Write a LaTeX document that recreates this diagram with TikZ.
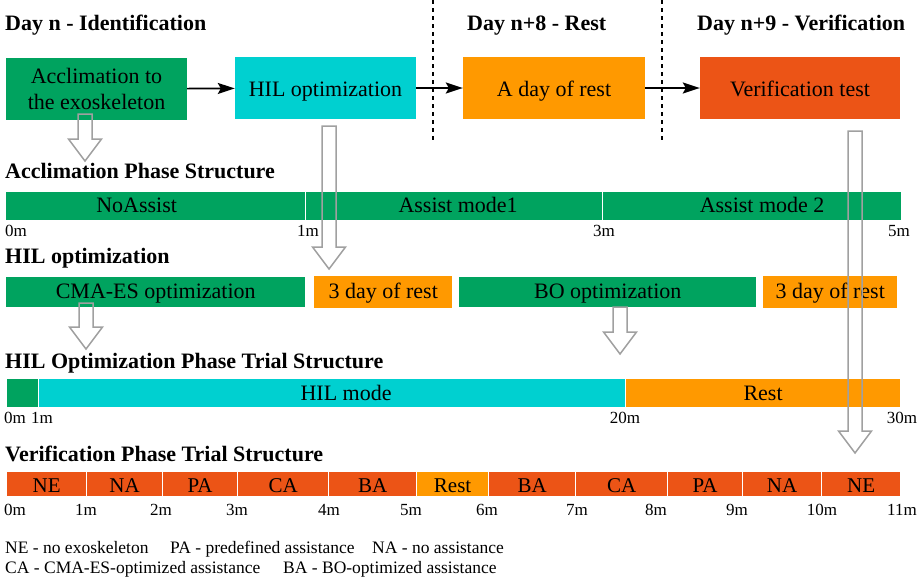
\documentclass[tikz,border=0pt]{standalone}
\usepackage{fontspec}
\setmainfont{Liberation Serif}
\usetikzlibrary{arrows.meta,calc,positioning}

\definecolor{accgreen}{RGB}{0,163,95}
\definecolor{hilcyan}{RGB}{0,208,208}
\definecolor{restorange}{RGB}{255,153,0}
\definecolor{verired}{RGB}{236,84,22}
\definecolor{arrowgray}{RGB}{160,160,160}

\tikzset{
  daytitle/.style={font=\fontsize{22}{26}\selectfont\bfseries, anchor=base west, inner sep=0pt},
  phase/.style={minimum width=181pt, minimum height=62pt, inner sep=0pt, align=center,
    font=\fontsize{22}{26}\selectfont},
  phaseone/.style={phase, text height=17pt, text depth=0pt},
  seg/.style={minimum height=30pt, inner sep=0pt, anchor=west, font=\fontsize{22}{26}\selectfont,
    text height=12.5pt, text depth=0pt},
  wseg/.style={seg, draw=white, line width=1.2pt},
  pseg/.style={wseg, minimum height=29pt, text height=15pt},
  vseg/.style={wseg, minimum height=26pt, font=\fontsize{21}{24}\selectfont, text height=16pt},
  tick/.style={font=\fontsize{17}{20}\selectfont, anchor=base, inner sep=0pt},
  note/.style={font=\fontsize{17.5}{20}\selectfont, anchor=base west, inner sep=0pt},
  flow/.style={line width=1.7pt, -{Stealth[length=17pt,width=11pt,inset=3pt]}},
  hollow/.style={draw=arrowgray, line width=1.5pt, line join=miter},
  daysep/.style={line width=2pt, dash pattern=on 4pt off 4pt}
}

% outlined down arrow from #1 to #2
\newcommand{\hollowarrow}[2]{%
  \draw[hollow] let \p1=(#1), \p2=(#2) in
    (\x1-7pt,\y1) -- (\x1-7pt,\y2+22pt) -- (\x1-16.5pt,\y2+22pt) -- (\x1,\y2)
    -- (\x1+16.5pt,\y2+22pt) -- (\x1+7pt,\y2+22pt) -- (\x1+7pt,\y1) -- cycle;}

\begin{document}
\begin{tikzpicture}[x=1pt,y=-1pt]
	\useasboundingbox (0,0) rectangle (920,581);

	% days
	\node[daytitle] (d1) at (5,30) {Day n - Identification};
	\node[daytitle] (d2) at (467,30) {Day n+8 - Rest};
	\node[daytitle] (d3) at (697,30) {Day n+9 - Verification};

	\draw[daysep] (433,0) -- (433,140);
	\draw[daysep] (662,0) -- (662,140);

	\node[phase, fill=accgreen] (acc) at (96.5,89) {Acclimation to\\the exoskeleton};
	\node[phaseone, fill=hilcyan] (hil) at (325.5,88) {HIL optimization};
	\node[phaseone, fill=restorange, minimum width=182pt] (rest) at (554,88) {A day of rest};
	\node[phaseone, fill=verired, minimum width=200pt] (veri) at (800,88) {Verification test};

	\draw[flow] (acc) -- (hil);
	\draw[flow] (hil) -- (rest);
	\draw[flow] (rest) -- (veri);

	% acclimation phase
	\node[daytitle] (t1) at (5,178) {Acclimation Phase Structure};
	\node[wseg, fill=accgreen, minimum width=300pt] (a1) at (5,206) {\hspace*{-38pt}NoAssist};
	\node[wseg, fill=accgreen, minimum width=297pt] (a2) at (305,206) {\hspace*{8pt}Assist mode1};
	\node[wseg, fill=accgreen, minimum width=299pt] (a3) at (602,206) {\hspace*{20pt}Assist mode 2};
	\node[tick, anchor=base west] (at0) at (5,236) {0m};
	\node[tick] (at1) at (308,236) {1m};
	\node[tick] (at3) at (604,236) {3m};
	\node[tick] (at5) at (899,236) {5m};

	% HIL optimization
	\node[daytitle] (t2) at (5,263) {HIL optimization};
	\node[seg, fill=accgreen, minimum width=299pt] (h1) at (6,292) {CMA-ES optimization};
	\node[seg, fill=restorange, minimum width=138pt, minimum height=32pt] (h2) at (314,292) {3 day of rest};
	\node[seg, fill=accgreen, minimum width=297pt] (h3) at (459,292) {BO optimization};
	\node[seg, fill=restorange, minimum width=134pt, minimum height=32pt] (h4) at (763,292) {3 day of rest};

	% HIL trial
	\node[daytitle] (t3) at (5,368) {HIL Optimization Phase Trial Structure};
	\node[pseg, fill=accgreen, minimum width=32pt] (p1) at (6,393) {};
	\node[pseg, fill=hilcyan, minimum width=587pt] (p2) at (38,393) {\hspace*{28pt}HIL mode};
	\node[pseg, fill=restorange, minimum width=275pt] (p3) at (625,393) {Rest};
	\node[tick, anchor=base west] (pt0) at (4,423) {0m};
	\node[tick] (pt1) at (42,423) {1m};
	\node[tick] (pt20) at (625,423) {20m};
	\node[tick] (pt30) at (902,423) {30m};

	% verification trial
	\node[daytitle] (t4) at (5,461) {Verification Phase Trial Structure};
	\foreach \i/\a/\b/\l/\c in {1/6/86/NE/verired, 2/86/162/NA/verired, 3/162/237/PA/verired,
	    4/237/328/CA/verired, 5/328/416/BA/verired, 6/416/488/Rest/restorange,
	    7/488/575/BA/verired, 8/575/667/CA/verired, 9/667/742/PA/verired,
	    10/742/821/NA/verired, 11/821/900/NE/verired}
		\node[vseg, fill=\c, minimum width={(\b-\a)*1pt}] (v\i) at (\a,484) {\l};
	\node[tick, anchor=base west] (vt0) at (4,515) {0m};
	\foreach \k/\x in {1/86,2/161,3/237,4/329,5/411,6/487,7/577,8/656,9/737,10/822,11/902}
		\node[tick] (vt\k) at (\x,515) {\k m};

	% legend
	\node[note] (n1) at (5,553) {NE - no exoskeleton};
	\node[note] (n2) at (170,553) {PA - predefined assistance};
	\node[note] (n3) at (372,553) {NA - no assistance};
	\node[note] (n4) at (5,573) {CA - CMA-ES-optimized assistance};
	\node[note] (n5) at (283,573) {BA - BO-optimized assistance};

	% hollow arrows
	\coordinate (accout) at (85,114);  \coordinate (accin) at (85,161);
	\coordinate (hilout) at (329,126); \coordinate (hilin) at (329,269);
	\coordinate (cmaout) at (86,303);  \coordinate (cmain) at (86,349);
	\coordinate (boout) at (620,307);  \coordinate (boin) at (620,354);
	\coordinate (verout) at (855,131); \coordinate (verin) at (855,453);
	\hollowarrow{accout}{accin}
	\hollowarrow{hilout}{hilin}
	\hollowarrow{cmaout}{cmain}
	\hollowarrow{boout}{boin}
	\hollowarrow{verout}{verin}
\end{tikzpicture}
\end{document}
